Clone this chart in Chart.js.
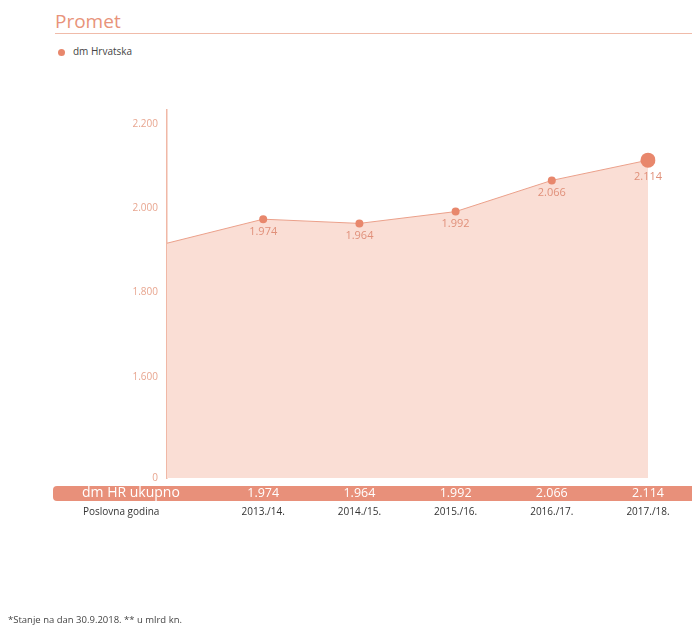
<!DOCTYPE html>
<html>
<head>
<meta charset="utf-8">
<script src="https://cdn.jsdelivr.net/npm/chart.js@4.4.1/dist/chart.umd.min.js"></script>
<style>
    body { margin: 0; background: #fff; font-family: "Open Sans", sans-serif; }
    #wrap { position: relative; width: 692px; height: 626px; overflow: hidden; }
    #title { position: absolute; left: 55px; top: 8px; font-size: 19px; color: #E8937A; }
    #titleLine { position: absolute; left: 55px; top: 33px; width: 637px; height: 0; border-top: 1.5px solid #F0BBA9; }
    #legend { position: absolute; left: 58px; top: 44px; font-size: 10px; color: #444; }
    #legend span.dot { display: inline-block; width: 7px; height: 7px; border-radius: 50%; background: #E8876C; margin-right: 8px; vertical-align: -0.5px; }
    #note { position: absolute; left: 8px; top: 613px; font-size: 9.5px; color: #444; }
    canvas { position: absolute; left: 0; top: 0; }
</style>
</head>
<body>
<div id="wrap">
    <div id="title">Promet</div>
    <div id="titleLine"></div>
    <div id="legend"><span class="dot"></span>dm Hrvatska</div>
    <canvas id="promet" width="692" height="626"></canvas>
    <div id="note">*Stanje na dan 30.9.2018. ** u mlrd kn.</div>
</div>
<script>
// Podaci
const godine = ['2012./13.', '2013./14.', '2014./15.', '2015./16.', '2016./17.', '2017./18.'];
const promet = [1917, 1974, 1964, 1992, 2066, 2114];
const yTicks = [1360, 1600, 1800, 2000, 2200];
const redNaziv = 'dm HR ukupno';
const redGodina = 'Poslovna godina';

function fmt(v) {
    return (v / 1000).toFixed(3);
}

// Tablica ispod grafa + oznake vrijednosti
const tablicaPlugin = {
    id: 'tablica',
    afterDatasetsDraw(chart) {
        const ctx = chart.ctx;
        const meta = chart.getDatasetMeta(0);
        ctx.save();
        ctx.font = '11px "Open Sans", sans-serif';
        ctx.fillStyle = '#E0907A';
        ctx.textAlign = 'center';
        ctx.textBaseline = 'top';
        meta.data.forEach(function(pt, i) {
            if (i === 0) return;
            const off = i === promet.length - 1 ? 11 : 7;
            ctx.fillText(fmt(promet[i]), pt.x, pt.y + off);
        });
        ctx.restore();
    },
    afterDraw(chart) {
        const ctx = chart.ctx;
        const x = chart.scales.x;
        ctx.save();
        // traka
        ctx.fillStyle = '#E8907A';
        ctx.beginPath();
        ctx.roundRect(53, 486, 700, 15, 4);
        ctx.fill();
        ctx.fillStyle = '#fff';
        ctx.textBaseline = 'middle';
        ctx.textAlign = 'left';
        ctx.font = '14px "Open Sans", sans-serif';
        ctx.fillText(redNaziv, 82, 493.5);
        ctx.textAlign = 'center';
        ctx.font = '12.5px "Open Sans", sans-serif';
        for (let i = 1; i < godine.length; i++) {
            ctx.fillText(fmt(promet[i]), x.getPixelForValue(i), 493.5);
        }
        // godine
        ctx.fillStyle = '#333';
        ctx.font = '10px "Open Sans", sans-serif';
        ctx.textAlign = 'left';
        ctx.fillText(redGodina, 83, 512);
        ctx.textAlign = 'center';
        for (let i = 1; i < godine.length; i++) {
            ctx.fillText(godine[i], x.getPixelForValue(i), 512);
        }
        ctx.restore();
    }
};

const ctx = document.getElementById('promet').getContext('2d');
new Chart(ctx, {
    type: 'line',
    data: {
        labels: godine,
        datasets: [{
            label: 'dm Hrvatska',
            data: promet,
            borderColor: '#EBA08A',
            borderWidth: 1,
            backgroundColor: '#FADED5',
            fill: 'start',
            tension: 0,
            pointBackgroundColor: '#E8876C',
            pointBorderWidth: 0,
            pointRadius: promet.map((v, i) => i === 0 ? 0 : (i === promet.length - 1 ? 7.5 : 4))
        }]
    },
    options: {
        responsive: false,
        animation: false,
        layout: { padding: { left: 0, right: 44, top: 110, bottom: 148 } },
        plugins: {
            legend: { display: false },
            tooltip: { enabled: false }
        },
        scales: {
            x: {
                display: false,
                offset: false
            },
            y: {
                min: 1360,
                max: 2233,
                afterFit: function(scale) { scale.width = 167; },
                afterBuildTicks: function(scale) {
                    scale.ticks = yTicks.map(v => ({ value: v }));
                },
                ticks: {
                    color: '#E8A690',
                    font: { size: 10, family: '"Open Sans", sans-serif' },
                    padding: 9,
                    callback: function(v) { return v === 1360 ? '0' : fmt(v); }
                },
                grid: { display: false, drawTicks: false },
                border: { display: true, color: '#F0B8A6', width: 1.5 }
            }
        }
    },
    plugins: [tablicaPlugin]
});
</script>
</body>
</html>
